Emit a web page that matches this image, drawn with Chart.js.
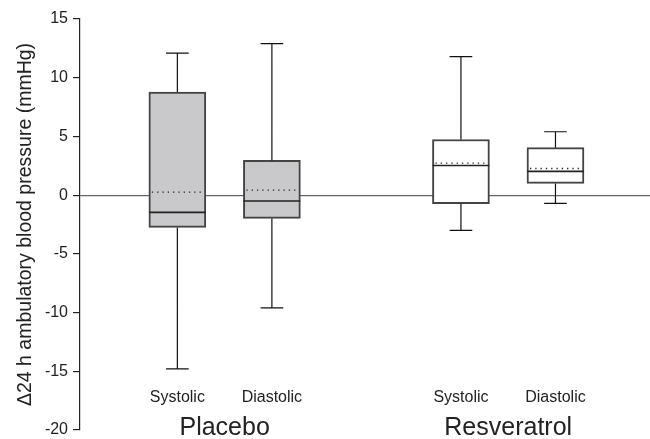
<!DOCTYPE html>
<html>
<head>
<meta charset="utf-8">
<script src="https://cdn.jsdelivr.net/npm/chart.js@4"></script>
<style>
  html, body { margin: 0; padding: 0; background: #fff; }
  #wrap { width: 650px; height: 439px; }
</style>
</head>
<body>
<div id="wrap"><canvas id="chart"></canvas></div>
<script>
// box positions on the x axis (slot 3 left empty between groups)
const positions = [1, 2, 4, 5];
const measures = ['Systolic', 'Diastolic', 'Systolic', 'Diastolic'];
const groups = ['Placebo', 'Resveratrol'];
const groupCentres = [1.5, 4.5];

// five-number summary + mean (mmHg)
const whiskerLow = [-14.8, -9.6, -3.0, -0.7];
const q1 = [-2.75, -1.98, -0.73, 1.0];
const median = [-1.47, -0.5, 2.53, 2.02];
const q3 = [8.78, 2.96, 4.74, 4.04];
const whiskerHigh = [12.1, 12.9, 11.8, 5.4];
const mean = [0.26, 0.43, 2.73, 2.27];

const yTicks = [15, 10, 5, 0, -5, -10, -15, -20];

const boxFill = ['#c9c9cb', '#c9c9cb', '#ffffff', '#ffffff'];
const halfBox = 0.3;
const halfCap = 0.12;

function segments(list) {
    // list of [x1, y1, x2, y2]; nulls break the line between segments
    const pts = [];
    list.forEach(s => {
        pts.push({ x: s[0], y: s[1] });
        pts.push({ x: s[2], y: s[3] });
        pts.push({ x: s[2], y: null });
    });
    return pts;
}

const whiskerSegs = [];
positions.forEach((x, i) => {
    whiskerSegs.push([x, q3[i], x, whiskerHigh[i]]);
    whiskerSegs.push([x, q1[i], x, whiskerLow[i]]);
    whiskerSegs.push([x - halfCap, whiskerHigh[i], x + halfCap, whiskerHigh[i]]);
    whiskerSegs.push([x - halfCap, whiskerLow[i], x + halfCap, whiskerLow[i]]);
});
const medianSegs = positions.map((x, i) => [x - halfBox, median[i], x + halfBox, median[i]]);
const meanSegs = positions.map((x, i) => [x - halfBox + 0.03, mean[i], x + halfBox - 0.03, mean[i]]);

const lineStyle = { type: 'line', pointRadius: 0, spanGaps: false, tension: 0, fill: false };

const labelPlugin = {
    id: 'groupLabels',
    afterDraw(chart) {
        const ctx = chart.ctx;
        const xs = chart.scales.x;
        const ys = chart.scales.y;
        ctx.save();
        ctx.fillStyle = '#222';
        ctx.textAlign = 'center';
        ctx.textBaseline = 'middle';
        ctx.font = '16px "Liberation Sans", Arial, sans-serif';
        positions.forEach((x, i) => {
            ctx.fillText(measures[i], xs.getPixelForValue(x), ys.getPixelForValue(-17.2));
        });
        ctx.font = '25px "Liberation Sans", Arial, sans-serif';
        groups.forEach((g, i) => {
            ctx.fillText(g, xs.getPixelForValue(groupCentres[i]), ys.getPixelForValue(-19.85));
        });
        ctx.restore();
    }
};

new Chart(document.getElementById('chart'), {
    type: 'bar',
    data: {
        datasets: [
            {
                type: 'bar',
                data: positions.map((x, i) => ({ x: x, y: [q1[i], q3[i]] })),
                backgroundColor: boxFill,
                borderColor: '#444',
                borderWidth: 2,
                borderSkipped: false,
                barThickness: 57,
                order: 3
            },
            Object.assign({}, lineStyle, {
                data: segments(whiskerSegs),
                borderColor: '#111',
                borderWidth: 1.2,
                order: 2
            }),
            Object.assign({}, lineStyle, {
                data: segments(medianSegs),
                borderColor: '#222',
                borderWidth: 1.6,
                order: 1
            }),
            Object.assign({}, lineStyle, {
                data: segments(meanSegs),
                borderColor: '#222',
                borderWidth: 1.3,
                borderDash: [1.3, 4],
                order: 0
            })
        ]
    },
    options: {
        responsive: true,
        maintainAspectRatio: false,
        animation: false,
        layout: { padding: { top: 19, bottom: 9, left: 0, right: 0 } },
        plugins: { legend: { display: false }, tooltip: { enabled: false } },
        scales: {
            x: {
                type: 'linear',
                display: false,
                offset: false,
                min: -0.03,
                max: 6
            },
            y: {
                min: -20,
                max: 15,
                z: 1,
                afterFit(scale) {
                    scale.width = 80;
                    scale.paddingTop = 0;
                    scale.paddingBottom = 0;
                },
                afterBuildTicks(scale) { scale.ticks = yTicks.map(v => ({ value: v })); },
                border: { display: true, color: '#222', width: 1.2 },
                grid: {
                    drawOnChartArea: true,
                    tickLength: 7,
                    tickColor: '#222',
                    tickWidth: 1.2,
                    color: c => (c.tick && c.tick.value === 0 ? '#666' : 'rgba(0,0,0,0)'),
                    lineWidth: 1.2
                },
                ticks: {
                    color: '#222',
                    padding: 5,
                    font: { family: '"Liberation Sans", Arial, sans-serif', size: 16 }
                },
                title: {
                    display: true,
                    text: 'Δ24 h ambulatory blood pressure (mmHg)',
                    color: '#222',
                    padding: { top: 14, bottom: 0 },
                    font: { family: '"Liberation Sans", Arial, sans-serif', size: 19.5 }
                }
            }
        }
    },
    plugins: [labelPlugin]
});
</script>
</body>
</html>
